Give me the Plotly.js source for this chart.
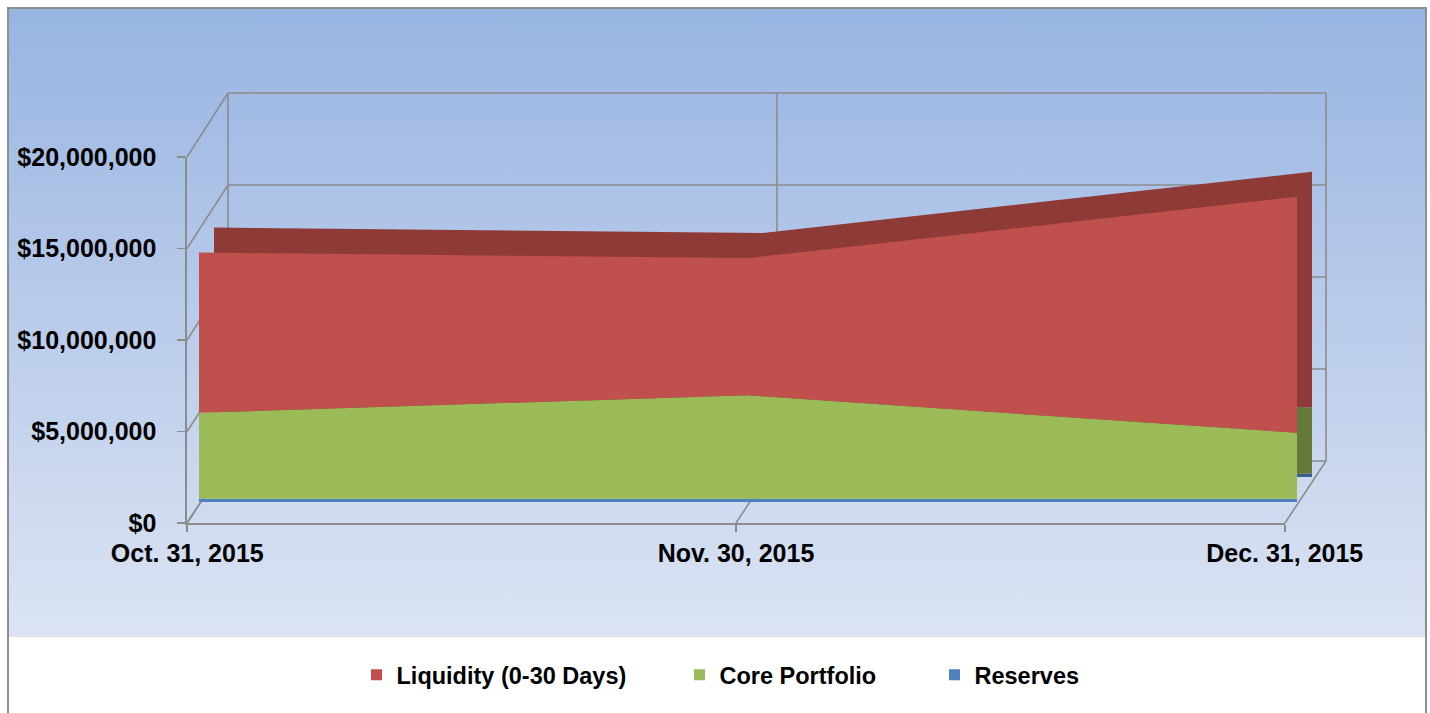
<!DOCTYPE html>
<html>
<head>
<meta charset="utf-8">
<script src="https://cdn.plot.ly/plotly-3.0.1.min.js"></script>
<style>
  html, body { margin: 0; padding: 0; background: #ffffff; }
  #stage { position: relative; width: 1430px; height: 713px; overflow: hidden; background: #ffffff; }
  #grad { position: absolute; left: 9px; top: 9px; width: 1416px; height: 628px;
          background: linear-gradient(to bottom, #98b4e2 0%, #dce4f3 100%); }
  #frame { position: absolute; left: 7px; top: 7px; width: 1416px; height: 720px;
           border: 2px solid #8e8e8e; box-sizing: content-box; }
  #chart { position: absolute; left: 0; top: 0; width: 1430px; height: 713px; }
</style>
</head>
<body>
<div id="stage">
  <div id="grad"></div>
  <div id="frame"></div>
  <div id="chart"></div>
</div>
<script>
// ---- data ----
const categories = ["Oct. 31, 2015", "Nov. 30, 2015", "Dec. 31, 2015"];
const reserves   = [180000, 180000, 180000];
const corePortfolio = [4700000, 5650000, 3600000];
const liquidity  = [8750000, 7500000, 12900000];
const yTickValues = [0, 5000000, 10000000, 15000000, 20000000];
const seriesNames = ["Liquidity (0-30 Days)", "Core Portfolio", "Reserves"];

// ---- geometry (pixels) ----
const W = 1430, H = 713;
const yMax = 20000000;
const FRONT_AXIS = {x0: 187, x2: 1285, y0: 523, yTop: 157};
const BACK_WALL  = {x0: 228, x2: 1326, y0: 461, yTop: 93};
const FACE       = {x0: 199, x2: 1297, y0: 502, yTop: 136};
const SHIFT = {dx: 15, dy: -25};
const DEPTH = {x0: FACE.x0 + SHIFT.dx, x2: FACE.x2 + SHIFT.dx, y0: FACE.y0 + SHIFT.dy, yTop: FACE.yTop + SHIFT.dy};
const LEGEND_SQUARE_LEFT = [371, 694, 949];
const LEGEND_Y = 675;

const px = v => v / W;
const py = v => 1 - v / H;
const xDom = g => [px(g.x0), px(g.x2)];
const yDom = g => [py(g.y0), py(g.yTop)];
const wallY = (g, v) => g.y0 - (g.y0 - g.yTop) * v / yMax;
const wallX = (g, i) => g.x0 + (g.x2 - g.x0) * i / (categories.length - 1);

const colors = {
  liquidity: "#c0504d", core: "#9bbb59", reserves: "#4f81bd",
  liquidityDark: "#8e3a37", coreDark: "#66793a", reservesDark: "#3b6190"
};

function area(y, fill, xa, ya, group) {
  return {
    type: "scatter", mode: "lines", x: categories, y: y,
    stackgroup: group, fillcolor: fill, line: {width: 0, color: fill},
    xaxis: xa, yaxis: ya, showlegend: false, hoverinfo: "skip"
  };
}

const traces = [
  area(reserves, colors.reservesDark, "x", "y", "depth"),
  area(corePortfolio, colors.coreDark, "x", "y", "depth"),
  area(liquidity, colors.liquidityDark, "x", "y", "depth"),
  area(reserves, colors.reserves, "x2", "y2", "face"),
  area(corePortfolio, colors.core, "x2", "y2", "face"),
  area(liquidity, colors.liquidity, "x2", "y2", "face"),
  {type: "scatter", mode: "lines", x: categories, y: liquidity, xaxis: "x3", yaxis: "y3",
   line: {width: 0}, opacity: 0, showlegend: false, hoverinfo: "skip"}
];

const legendFont = {family: "Liberation Sans, Arial, sans-serif", size: 23.5, color: "#000000", weight: "bold"};
const legendIds = ["legend", "legend2", "legend3"];
const legendColors = [colors.liquidity, colors.core, colors.reserves];
seriesNames.forEach((n, i) => traces.push({
  type: "scatter", mode: "markers", name: n, x: [categories[0]], y: [null],
  xaxis: "x3", yaxis: "y3", legend: legendIds[i],
  marker: {symbol: "square", size: 11, color: legendColors[i]}, hoverinfo: "skip"
}));

const gridColor = "#8c8c8c";
const shapes = [];
function seg(x0, y0, x1, y1) {
  shapes.push({type: "line", xref: "paper", yref: "paper", layer: "below",
    x0: px(x0), y0: py(y0), x1: px(x1), y1: py(y1),
    line: {color: gridColor, width: 1.6}});
}
yTickValues.forEach(v => {
  seg(BACK_WALL.x0, wallY(BACK_WALL, v), BACK_WALL.x2, wallY(BACK_WALL, v));
  seg(FRONT_AXIS.x0, wallY(FRONT_AXIS, v), BACK_WALL.x0, wallY(BACK_WALL, v));
});
categories.forEach((c, i) => {
  seg(wallX(BACK_WALL, i), BACK_WALL.y0, wallX(BACK_WALL, i), BACK_WALL.yTop);
  seg(wallX(FRONT_AXIS, i), FRONT_AXIS.y0, wallX(BACK_WALL, i), BACK_WALL.y0);
});

const tickFont = {family: "Liberation Sans, Arial, sans-serif", size: 25, color: "#000000", weight: "bold"};
const catRange = [0, categories.length - 1];
const hidden = {type: "category", showgrid: false, zeroline: false, showticklabels: false,
                showline: false, ticks: "", fixedrange: true};

function legendAt(i) {
  return {orientation: "h", x: px(LEGEND_SQUARE_LEFT[i] + 5.5 - 20), xanchor: "left",
          y: py(LEGEND_Y), yanchor: "middle", font: legendFont, itemwidth: 30,
          bgcolor: "rgba(0,0,0,0)", borderwidth: 0};
}

const layout = {
  width: W, height: H,
  margin: {l: 0, r: 0, t: 0, b: 0, pad: 0},
  paper_bgcolor: "rgba(0,0,0,0)", plot_bgcolor: "rgba(0,0,0,0)",
  showlegend: true,
  legend: legendAt(0), legend2: legendAt(1), legend3: legendAt(2),
  xaxis:  Object.assign({}, hidden, {domain: xDom(DEPTH), range: catRange, anchor: "y"}),
  yaxis:  Object.assign({}, hidden, {type: "linear", domain: yDom(DEPTH), range: [0, yMax], anchor: "x"}),
  xaxis2: Object.assign({}, hidden, {domain: xDom(FACE), range: catRange, anchor: "y2"}),
  yaxis2: Object.assign({}, hidden, {type: "linear", domain: yDom(FACE), range: [0, yMax], anchor: "x2"}),
  xaxis3: {type: "category", domain: xDom(FRONT_AXIS), range: [-0.0005, categories.length - 1 + 0.0005],
           anchor: "y3", showgrid: false, zeroline: false, showline: true, linecolor: gridColor, linewidth: 1.6,
           ticks: "outside", ticklen: 7, tickcolor: gridColor, tickwidth: 1.6,
           tickfont: tickFont, ticklabelstandoff: 0, fixedrange: true},
  yaxis3: {type: "linear", domain: yDom(FRONT_AXIS), range: [0, yMax], anchor: "x3",
           tickvals: yTickValues, tickformat: "$,.0f",
           showgrid: false, zeroline: false, showline: true, linecolor: gridColor, linewidth: 1.6,
           ticks: "outside", ticklen: 8, tickcolor: gridColor, tickwidth: 1.6,
           tickfont: tickFont, ticklabelstandoff: 16, fixedrange: true},
  shapes: shapes
};

Plotly.newPlot("chart", traces, layout, {displayModeBar: false, staticPlot: true});
</script>
</body>
</html>
